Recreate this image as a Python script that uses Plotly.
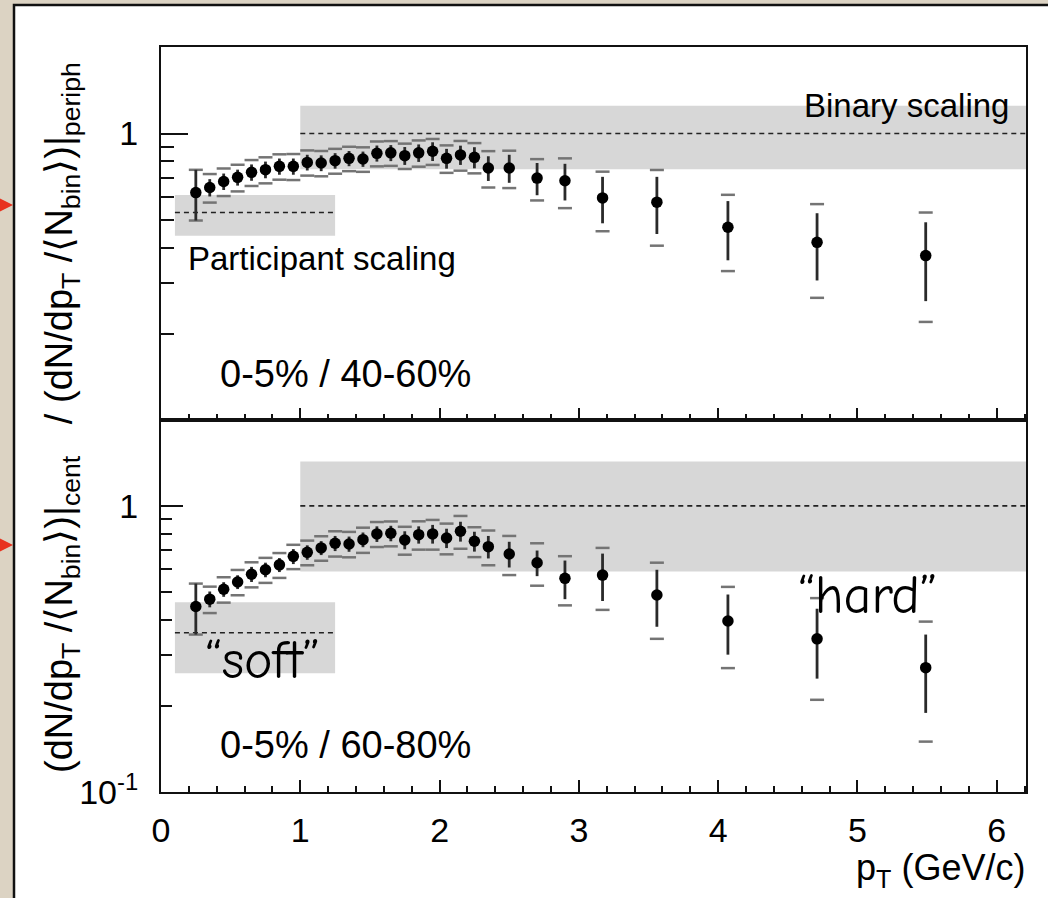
import plotly.graph_objects as go

# ---------------- data ----------------
pt = [0.25, 0.35, 0.45, 0.55, 0.65, 0.75, 0.85, 0.95, 1.05, 1.15, 1.25, 1.35, 1.45, 1.55, 1.65,
      1.75, 1.85, 1.95, 2.05, 2.15, 2.25, 2.35, 2.5, 2.7, 2.9, 3.17, 3.56, 4.07, 4.71, 5.49]

# 0-5% / 40-60%  (top panel)
r_top = [0.622, 0.648, 0.680, 0.703, 0.732, 0.748, 0.768, 0.768, 0.793, 0.789, 0.804, 0.819, 0.815,
         0.853, 0.856, 0.837, 0.856, 0.867, 0.819, 0.842, 0.826, 0.758, 0.758, 0.699, 0.684, 0.596,
         0.576, 0.471, 0.417, 0.375]
stat_top = [0.125, 0.045, 0.045, 0.045, 0.048, 0.05, 0.05, 0.05, 0.05, 0.05, 0.05, 0.05, 0.05, 0.055,
            0.055, 0.06, 0.06, 0.065, 0.065, 0.065, 0.07, 0.075, 0.085, 0.09, 0.1, 0.11, 0.13, 0.11,
            0.11, 0.115]
sys_top = [0.125, 0.074, 0.075, 0.075, 0.076, 0.078, 0.078, 0.08, 0.08, 0.08, 0.08, 0.08, 0.08, 0.085,
           0.085, 0.085, 0.09, 0.09, 0.09, 0.1, 0.1, 0.11, 0.113, 0.115, 0.135, 0.14, 0.17, 0.14,
           0.15, 0.155]

# 0-5% / 60-80%  (bottom panel)
r_bot = [0.445, 0.472, 0.511, 0.542, 0.577, 0.598, 0.622, 0.666, 0.688, 0.713, 0.740, 0.736, 0.762,
         0.798, 0.802, 0.760, 0.793, 0.798, 0.772, 0.815, 0.752, 0.720, 0.679, 0.633, 0.558, 0.573,
         0.488, 0.396, 0.343, 0.272]
stat_bot = [0.09, 0.03, 0.03, 0.03, 0.035, 0.035, 0.035, 0.04, 0.04, 0.04, 0.045, 0.045, 0.045, 0.05,
            0.05, 0.055, 0.055, 0.06, 0.06, 0.065, 0.06, 0.065, 0.07, 0.065, 0.086, 0.108, 0.11,
            0.094, 0.094, 0.083]
sys_bot = [0.09, 0.05, 0.052, 0.055, 0.058, 0.06, 0.062, 0.065, 0.068, 0.07, 0.075, 0.075, 0.077,
           0.08, 0.08, 0.085, 0.09, 0.095, 0.095, 0.107, 0.09, 0.1, 0.106, 0.107, 0.109, 0.14,
           0.145, 0.125, 0.133, 0.122]

# scaling bands: [x_start, x_end, centre, low, high]
part_top = [0.1, 1.25, 0.53, 0.44, 0.61]
bin_top = [1.0, 6.21, 1.0, 0.75, 1.25]
part_bot = [0.1, 1.25, 0.36, 0.26, 0.46]
bin_bot = [1.0, 6.21, 1.0, 0.59, 1.43]

x_ticks = [0, 1, 2, 3, 4, 5, 6]
y_minor = [0.2, 0.3, 0.4, 0.5, 0.6, 0.7, 0.8, 0.9, 2.0]

# ---------------- figure ----------------
W, H = 1048, 898
ML, MR, MT, MB = 161, 22, 47, 106
PW, PH = W - ML - MR, H - MT - MB


def px(x):
    return (x - ML) / PW


def py(y):
    return (H - MB - y) / PH


FONT = "Liberation Sans, Arial, Helvetica, sans-serif"
HAND = "Comic Sans MS, Comic Neue, DejaVu Sans, sans-serif"
fig = go.Figure()


def add_panel(xa, ya, r, stat, sys, part, binb):
    for b in (part, binb):
        x0, x1, c, lo, hi = b
        fig.add_trace(go.Scatter(x=[x0, x1, x1, x0, x0], y=[lo, lo, hi, hi, lo], fill="toself",
                                 fillcolor="#d7d7d7", line=dict(width=0), mode="lines",
                                 xaxis=xa, yaxis=ya, hoverinfo="skip", showlegend=False))
        fig.add_trace(go.Scatter(x=[x0, x1], y=[c, c], mode="lines",
                                 line=dict(color="#222", width=1.6, dash="5px,4px"),
                                 xaxis=xa, yaxis=ya, hoverinfo="skip", showlegend=False))
    caps_x = pt + pt
    caps_y = [v + s for v, s in zip(r, sys)] + [v - s for v, s in zip(r, sys)]
    fig.add_trace(go.Scatter(x=caps_x, y=caps_y, mode="markers",
                             marker=dict(symbol="line-ew", size=10,
                                         line=dict(color="#747474", width=2.5)),
                             xaxis=xa, yaxis=ya, hoverinfo="skip", showlegend=False))
    fig.add_trace(go.Scatter(x=pt, y=r, mode="markers",
                             marker=dict(color="black", size=11.5),
                             error_y=dict(type="data", array=stat, color="#2a2a2a", thickness=2.8,
                                          width=0),
                             xaxis=xa, yaxis=ya, showlegend=False))


add_panel("x2", "y2", r_top, stat_top, sys_top, part_top, bin_top)
add_panel("x", "y", r_bot, stat_bot, sys_bot, part_bot, bin_bot)

xcommon = dict(range=[0, 6.21], showline=True, linecolor="#111", linewidth=2, mirror=True,
               ticks="inside", ticklen=12, tickwidth=1.8, tickcolor="#111",
               tickvals=x_ticks, showgrid=False, zeroline=False,
               minor=dict(dtick=0.2, tick0=0, ticks="inside", ticklen=6, tickwidth=1.5,
                          tickcolor="#111", showgrid=False))

fig.update_layout(
    width=W, height=H,
    margin=dict(l=ML, r=MR, t=MT, b=MB, autoexpand=False),
    paper_bgcolor="#dcd3c3", plot_bgcolor="white",
    font=dict(family=FONT, color="black", size=32),
    showlegend=False,
    xaxis=dict(domain=[0, 1], anchor="y", tickfont=dict(size=34), ticklabelstandoff=7, **xcommon),
    xaxis2=dict(domain=[0, 1], anchor="y2", matches="x", showticklabels=False, **xcommon),
    yaxis=dict(domain=[0, 0.4993], type="log", range=[-1, 0.3], showline=True, linecolor="#111",
               linewidth=2, mirror=True, ticks="inside", ticklen=22, tickwidth=1.8,
               tickcolor="#111", tickmode="array", tickvals=[0.1, 1],
               ticktext=["10<sup>-1</sup>", "1"], tickfont=dict(size=34), ticklabelstandoff=14,
               showgrid=False, zeroline=False,
               minor=dict(tickmode="array", tickvals=y_minor, ticks="inside", ticklen=11,
                          tickwidth=1.6, tickcolor="#111", showgrid=False)),
    yaxis2=dict(domain=[0.4993, 1], type="log", range=[-1, 0.302], showline=True,
                linecolor="#111", linewidth=2, mirror=True, ticks="inside", ticklen=27,
                tickwidth=1.8, tickcolor="#111", tickmode="array", tickvals=[1],
                ticktext=["1"], tickfont=dict(size=34), ticklabelstandoff=14,
                showgrid=False, zeroline=False,
                minor=dict(tickmode="array", tickvals=y_minor, ticks="inside", ticklen=13,
                           tickwidth=1.6, tickcolor="#111", showgrid=False)),
)

# white slide frame
fig.add_shape(type="rect", xref="paper", yref="paper", x0=px(14), x1=px(1060), y0=py(910),
              y1=py(5), fillcolor="white", line=dict(color="#111", width=2.5), layer="below")

ann = [
    dict(text="Binary scaling", x=px(1011), y=py(105), xanchor="right", yanchor="middle",
         font=dict(size=33)),
    dict(text="Participant scaling", x=px(186), y=py(258), xanchor="left", yanchor="middle",
         font=dict(size=33)),
    dict(text="0-5% / 40-60%", x=px(218), y=py(374), xanchor="left", yanchor="middle",
         font=dict(size=38)),
    dict(text="0-5% / 60-80%", x=px(218), y=py(745), xanchor="left", yanchor="middle",
         font=dict(size=38)),
    dict(text="p<sub>T</sub> (GeV/c)", x=px(1027), y=py(870), xanchor="right",
         yanchor="middle", font=dict(size=36)),
    dict(text="\u201csoft\u201d", x=px(262), y=py(660), xanchor="center", yanchor="middle",
         font=dict(size=54, family=HAND)),
    dict(text="\u201chard\u201d", x=px(867), y=py(595), xanchor="center", yanchor="middle",
         font=dict(size=54, family=HAND)),
    dict(text="(dN/dp<sub>T</sub> /\u27e8N<sub>bin</sub>\u27e9)|<sub>cent</sub>   / "
              "(dN/dp<sub>T</sub> /\u27e8N<sub>bin</sub>\u27e9)|<sub>periph</sub>",
         x=px(62), y=py(418), xanchor="center", yanchor="middle", textangle=-90,
         font=dict(size=38)),
]
for a in ann:
    fig.add_annotation(xref="paper", yref="paper", showarrow=False, **a)

for yy in (205, 545):
    fig.add_annotation(xref="paper", yref="paper", x=px(13), y=py(yy), text="",
                       showarrow=True, ax=-40, ay=0, arrowcolor="#e8321e", arrowwidth=3,
                       arrowhead=2, arrowsize=1.4)

fig.write_html("out.html", config={"displayModeBar": False},
               post_script="document.body.style.margin='0px';document.body.style.overflow='hidden';")
